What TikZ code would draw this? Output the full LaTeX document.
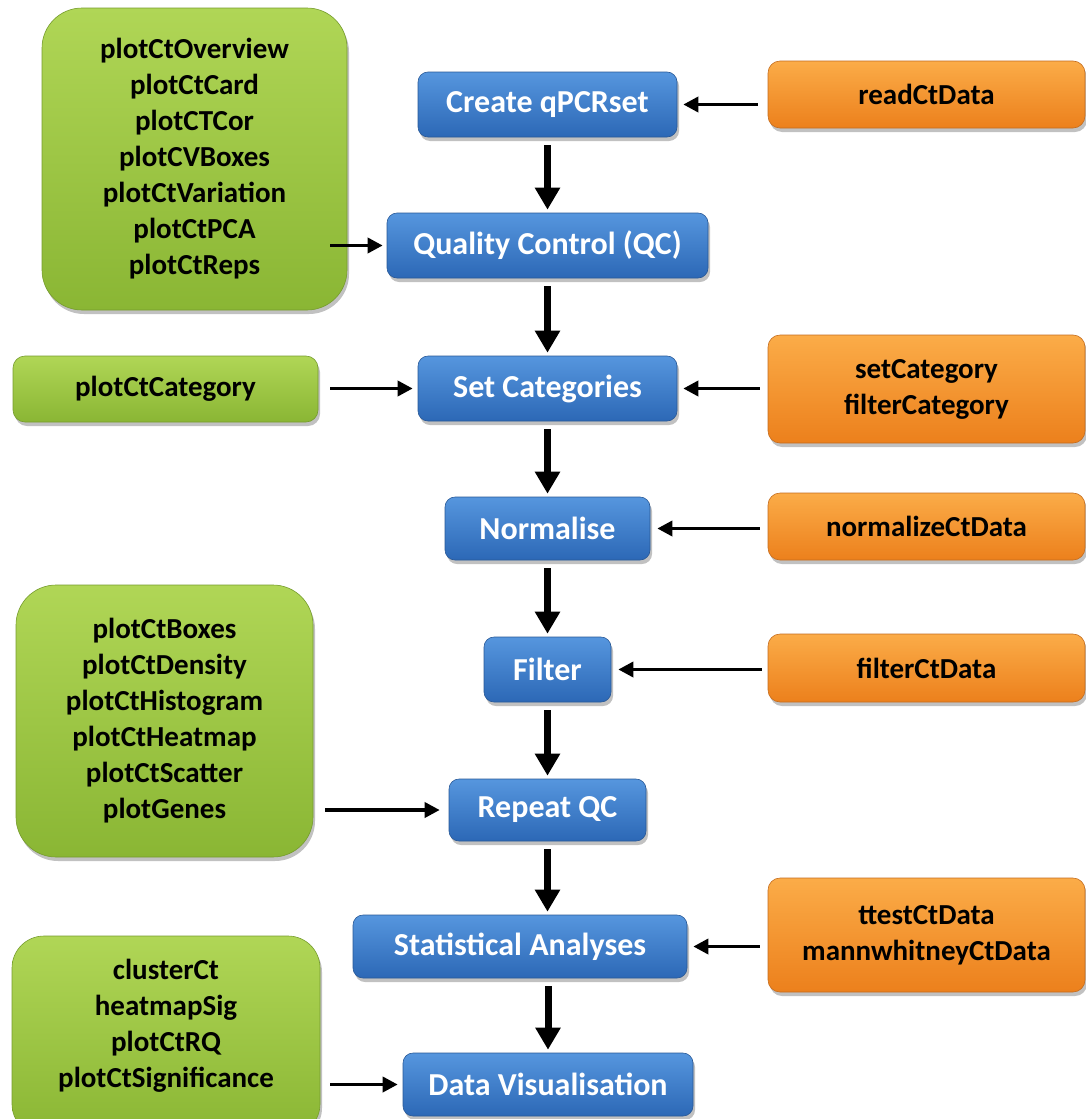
\documentclass[tikz,border=0pt]{standalone}
\usepackage{fontspec}
\setmainfont{Carlito}
\usetikzlibrary{arrows.meta,shadows}
\definecolor{bluetop}{RGB}{86,150,222}
\definecolor{bluebot}{RGB}{44,104,182}
\definecolor{blueedge}{RGB}{40,88,150}
\definecolor{orgtop}{RGB}{251,172,72}
\definecolor{orgbot}{RGB}{236,128,28}
\definecolor{orgedge}{RGB}{196,108,30}
\definecolor{grntop}{RGB}{176,214,86}
\definecolor{grnbot}{RGB}{138,182,52}
\definecolor{grnedge}{RGB}{118,156,46}
\begin{document}
\begin{tikzpicture}[x=1pt,y=-1pt,
  boxbase/.style={rectangle, inner sep=0pt, align=center,
    drop shadow={shadow xshift=2pt, shadow yshift=-4pt, opacity=0.35, fill=black!70}},
  bluebox/.style={boxbase, rounded corners=10pt, top color=bluetop, bottom color=bluebot,
    draw=blueedge, line width=0.6pt, text=white,
    font={\fontsize{32}{36}\selectfont\bfseries}},
  orgbox/.style={boxbase, rounded corners=12pt, top color=orgtop, bottom color=orgbot,
    draw=orgedge, line width=0.6pt, text=black,
    font={\fontsize{29}{36}\selectfont\bfseries}},
  grnbox/.style={boxbase, top color=grntop, bottom color=grnbot,
    draw=grnedge, line width=0.6pt, text=black,
    font={\fontsize{29}{36}\selectfont\bfseries}},
  grntext/.style={align=center, inner sep=0pt, text=black,
    font={\fontsize{29}{36}\selectfont\bfseries}},
  varrow/.style={line width=7pt, -{Triangle[length=22pt,width=24pt]},
    shorten <=8pt, shorten >=3pt},
  harrow/.style={line width=3.5pt, -{Triangle[length=15pt,width=15pt]},
    shorten <=9pt, shorten >=6pt}
]
\useasboundingbox (0,0) rectangle (1085,1119);

% main flow (blue)
\node[bluebox, minimum width=259pt, minimum height=65pt] (cq) at (547.5,104.5) {Create qPCRset};
\node[bluebox, minimum width=321pt, minimum height=65pt] (qc) at (547.5,245.5) {Quality Control (QC)};
\node[bluebox, minimum width=259pt, minimum height=65pt] (sc) at (547.5,388.5) {Set Categories};
\node[bluebox, minimum width=205pt, minimum height=63pt] (nm) at (547.5,528.5) {Normalise};
\node[bluebox, minimum width=127pt, minimum height=65pt] (fl) at (547.5,669.5) {Filter};
\node[bluebox, minimum width=197pt, minimum height=62pt] (rq) at (547.5,810) {Repeat QC};
\node[bluebox, minimum width=334pt, minimum height=63pt] (sa) at (520,946.5) {Statistical Analyses};
\node[bluebox, minimum width=290pt, minimum height=63pt] (dv) at (548,1084.5) {Data Visualisation};

% orange boxes
\node[orgbox, minimum width=317pt, minimum height=67pt] (rd) at (926.5,94.5) {readCtData};
\node[orgbox, minimum width=317pt, minimum height=108pt] (scf) at (926.5,389) {setCategory\\filterCategory};
\node[orgbox, minimum width=317pt, minimum height=67pt] (nz) at (926.5,526.5) {normalizeCtData};
\node[orgbox, minimum width=317pt, minimum height=68pt] (fc) at (926.5,668) {filterCtData};
\node[orgbox, minimum width=317pt, minimum height=114pt] (tt) at (926.5,935) {ttestCtData\\mannwhitneyCtData};

% green boxes
\node[grnbox, rounded corners=40pt, minimum width=305pt, minimum height=302pt] (g1) at (194.5,159)
  {plotCtOverview\\plotCtCard\\plotCTCor\\plotCVBoxes\\plotCtVariation\\plotCtPCA\\plotCtReps};
\node[grnbox, rounded corners=12pt, minimum width=305pt, minimum height=66pt] (g2) at (165.5,389) {plotCtCategory};
\node[grnbox, rounded corners=40pt, minimum width=297pt, minimum height=272pt] (g3) at (164.5,721)
  {plotCtBoxes\\plotCtDensity\\plotCtHistogram\\plotCtHeatmap\\plotCtScatter\\plotGenes};
\node[grnbox, rounded corners=32pt, minimum width=308pt, minimum height=200pt] (g4) at (166,1036) {};
\node[grntext] (g4t) at (166,1026) {clusterCt\\heatmapSig\\plotCtRQ\\plotCtSignificance};

% vertical flow arrows
\draw[varrow] (cq.south) -- (qc.north);
\draw[varrow] (qc.south) -- (sc.north);
\draw[varrow] (sc.south) -- (nm.north);
\draw[varrow] (nm.south) -- (fl.north);
\draw[varrow] (fl.south) -- (rq.north);
\draw[varrow] (rq.south) -- (rq.south |- sa.north);
\draw[varrow] (sa.south -| dv.north) -- (dv.north);

% horizontal arrows
\draw[harrow, shorten <=10pt] (rd.west |- cq.east) -- (cq.east);
\draw[harrow, shorten <=-17pt, shorten >=4pt] (g1.east |- qc.west) -- (qc.west);
\draw[harrow, shorten <=12pt, shorten >=5pt] (g2.east |- sc.west) -- (sc.west);
\draw[harrow, shorten <=8pt] (scf.west |- sc.east) -- (sc.east);
\draw[harrow, shorten <=8pt, shorten >=7pt] (nz.west |- nm.east) -- (nm.east);
\draw[harrow, shorten <=6pt, shorten >=7pt] (fc.west |- fl.east) -- (fl.east);
\draw[harrow, shorten <=12pt, shorten >=9pt] (g3.east |- rq.west) -- (rq.west);
\draw[harrow, shorten <=8pt] (tt.west |- sa.east) -- (sa.east);
\draw[harrow, shorten <=10pt, shorten >=5pt] (g4.east |- dv.west) -- (dv.west);
\end{tikzpicture}
\end{document}
